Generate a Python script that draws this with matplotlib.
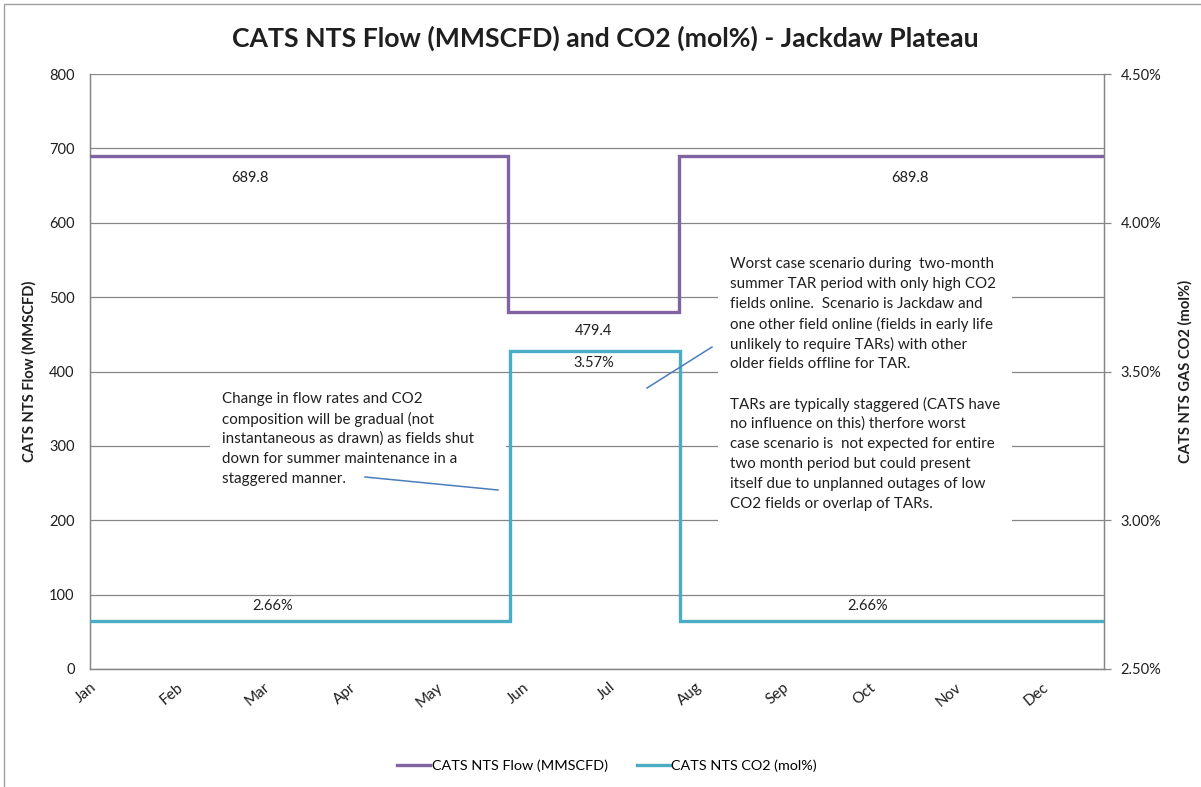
import matplotlib
matplotlib.use("Agg")
import matplotlib.pyplot as plt
from matplotlib.patches import Rectangle
from matplotlib.lines import Line2D

plt.rcParams['font.family'] = ['Lato', 'DejaVu Sans']

# ---- data ----
months = ["Jan", "Feb", "Mar", "Apr", "May", "Jun", "Jul", "Aug", "Sep", "Oct", "Nov", "Dec"]
# x positions in months (0 = 1 Jan); TAR period starts/ends
x_start = 0.0
tar_start = 4.83
tar_end = 6.81
x_end = 11.716
flow_normal = 689.8
flow_tar = 479.4
co2_normal = 2.66
co2_tar = 3.57

flow_x = [x_start, tar_start, tar_start, tar_end, tar_end, x_end]
flow_y = [flow_normal, flow_normal, flow_tar, flow_tar, flow_normal, flow_normal]
co2_x = [x_start, tar_start + 0.02, tar_start + 0.02, tar_end + 0.01, tar_end + 0.01, x_end]
co2_y = [co2_normal, co2_normal, co2_tar, co2_tar, co2_normal, co2_normal]

note1 = ["Change in flow rates and CO2",
         "composition will be gradual (not",
         "instantaneous as drawn) as fields shut",
         "down for summer maintenance in a",
         "staggered manner."]
note2 = ["Worst case scenario during  two-month",
         "summer TAR period with only high CO2",
         "fields online.  Scenario is Jackdaw and",
         "one other field online (fields in early life",
         "unlikely to require TARs) with other",
         "older fields offline for TAR.",
         "",
         "TARs are typically staggered (CATS have",
         "no influence on this) therfore worst",
         "case scenario is  not expected for entire",
         "two month period but could present",
         "itself due to unplanned outages of low",
         "CO2 fields or overlap of TARs."]

PURPLE = "#8064A2"
CYAN = "#4BACC6"
GRID = "#868686"
TXT = "#1f1f1f"
W, H = 1201, 787

fig = plt.figure(figsize=(W / 100, H / 100), dpi=100)

def px(x, y):
    return x / W, 1 - y / H

# chart area border
fig.patches.append(Rectangle(px(4, 790), (W + 10) / W, 786 / H, transform=fig.transFigure,
                             fill=False, edgecolor="#A0A0A0", lw=1.0))

L, R, T, B = 90, 1104, 74, 669
ax = fig.add_axes([L / W, 1 - B / H, (R - L) / W, (B - T) / H])
ax.set_xlim(x_start, x_end)
ax.set_ylim(0, 800)
ax.set_yticks(range(0, 801, 100))
ax.set_xticks(range(len(months)))
ax.set_xticklabels(months, rotation=40, ha="right", va="top", rotation_mode="anchor",
                   fontsize=11, color=TXT)
ax.tick_params(axis="x", length=0, pad=8)
ax.tick_params(axis="y", length=0, pad=11, labelsize=10.5, labelcolor=TXT)
ax.grid(axis="y", color=GRID, lw=0.9)
ax.set_axisbelow(True)
ax.spines["top"].set_visible(False)
for s in ["left", "bottom", "right"]:
    ax.spines[s].set_color(GRID)
    ax.spines[s].set_linewidth(0.9)
ax.set_ylabel("CATS NTS Flow (MMSCFD)", fontsize=10.6, fontweight="bold", color=TXT)
ax.yaxis.set_label_coords(-(L - 37) / (R - L), 0.5)

ax2 = ax.twinx()
ax2.set_ylim(2.5, 4.5)
ax2.set_yticks([2.5, 3.0, 3.5, 4.0, 4.5])
ax2.set_yticklabels([f"{v:.2f}%" for v in [2.5, 3.0, 3.5, 4.0, 4.5]])
ax2.tick_params(axis="y", length=5, width=0.9, color=GRID, pad=7, labelsize=10.5,
                labelcolor=TXT)
ax2.spines["top"].set_visible(False)
for s in ["left", "bottom", "right"]:
    ax2.spines[s].set_color(GRID)
    ax2.spines[s].set_linewidth(0.9)
ax2.set_ylabel("CATS NTS GAS CO2 (mol%)", fontsize=10.6, fontweight="bold", color=TXT)
ax2.yaxis.set_label_coords(1 + (1178 - R) / (R - L), 0.5)

# white text boxes behind notes
fig.patches.append(Rectangle(px(210, 490), (506 - 210) / W, (490 - 380) / H,
                             transform=fig.transFigure, facecolor="white", edgecolor="none",
                             zorder=1.5))
fig.patches.append(Rectangle(px(718, 527), (1012 - 718) / W, (527 - 248) / H,
                             transform=fig.transFigure, facecolor="white", edgecolor="none",
                             zorder=1.5))

ax2.plot(flow_x, [2.5 + v / 400 for v in flow_y], color=PURPLE, lw=2.4, zorder=3,
         solid_joinstyle="miter")
ax2.plot(co2_x, co2_y, color=CYAN, lw=2.4, zorder=3, solid_joinstyle="miter")

# data labels
def flow_label(x, v, dy):
    ax.annotate(f"{v:.1f}", xy=(x, v), xytext=(0, -dy), textcoords="offset pixels",
                ha="center", va="center", fontsize=10.5, color=TXT)

def co2_label(x, v, dy):
    ax2.annotate(f"{v:.2f}%", xy=(x, v), xytext=(0, dy), textcoords="offset pixels",
                 ha="center", va="center", fontsize=10.5, color=TXT)

flow_label(1.85, flow_normal, 22)
flow_label(9.47, flow_normal, 22)
flow_label((tar_start + tar_end) / 2, flow_tar, 19)
co2_label((tar_start + tar_end) / 2, co2_tar, -12)
co2_label(2.11, co2_normal, 15)
co2_label(8.99, co2_normal, 15)

# notes
for i, line in enumerate(note1):
    fig.text(*px(222, 399 + 20 * i), line, ha="left", va="center", fontsize=10.9,
             color=TXT, zorder=5)
for i, line in enumerate(note2):
    if line:
        fig.text(*px(730, 264 + 20 * i), line, ha="left", va="center", fontsize=10.9,
                 color=TXT, zorder=5)
fig.add_artist(Line2D([365 / W, 498 / W], [1 - 477 / H, 1 - 490 / H], color="#4A7EBB", lw=1.1))
fig.add_artist(Line2D([647 / W, 712 / W], [1 - 388 / H, 1 - 347 / H], color="#4A7EBB", lw=1.1))

fig.text(*px(605, 38), "CATS NTS Flow (MMSCFD) and CO2 (mol%) - Jackdaw Plateau",
         ha="center", va="center", fontsize=19.2, fontweight="bold", color=TXT)

handles = [Line2D([], [], color=PURPLE, lw=2.4), Line2D([], [], color=CYAN, lw=2.4)]
fig.legend(handles, ["CATS NTS Flow (MMSCFD)", "CATS NTS CO2 (mol%)"], ncol=2,
           loc="center", bbox_to_anchor=(px(607, 766)), frameon=False, fontsize=10.4,
           handlelength=2.3, handletextpad=0.1, columnspacing=2.0)

fig.savefig("out.png", dpi=100)
